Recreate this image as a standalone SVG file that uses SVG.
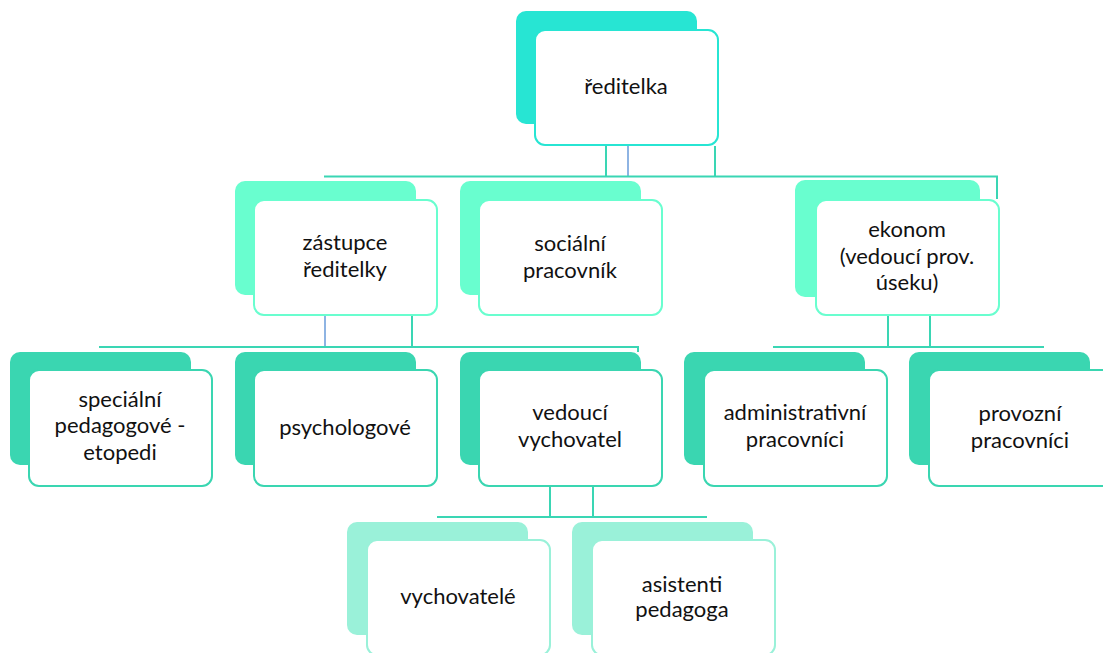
<svg xmlns="http://www.w3.org/2000/svg" width="1103" height="653" viewBox="0 0 1103 653">
<style>
  text { font-family: Lato, "Open Sans", "Liberation Sans", sans-serif; font-size: 22px; fill: #111; text-anchor: middle; }
  .front { fill: #ffffff; stroke-width: 2; }
  .l1b { fill: #27E5D3; } .l1f { stroke: #27E5D3; }
  .l2b { fill: #69FECF; } .l2f { stroke: #69FECF; }
  .l3b { fill: #3AD6B1; } .l3f { stroke: #3AD6B1; }
  .l4b { fill: #9AF1D9; } .l4f { stroke: #9AF1D9; }
  .conn { stroke: #3AD6B4; stroke-width: 2; fill: none; }
  .connb { stroke: #8EB4E3; stroke-width: 2; fill: none; }
</style>
<rect width="1103" height="653" fill="#ffffff"/>

<g id="connectors">
  <!-- from ředitelka -->
  <line class="conn" x1="606" y1="146" x2="606" y2="176.5"/>
  <line class="connb" x1="628" y1="146" x2="628" y2="176.5"/>
  <line class="conn" x1="715" y1="146" x2="715" y2="176.5"/>
  <line class="conn" x1="324" y1="176.5" x2="998" y2="176.5"/>
  <line class="conn" x1="997" y1="176.5" x2="997" y2="199"/>
  <!-- from zástupce -->
  <line class="connb" x1="325" y1="316" x2="325" y2="347"/>
  <line class="conn" x1="412" y1="316" x2="412" y2="347"/>
  <line class="conn" x1="99" y1="347" x2="639" y2="347"/>
  <line class="conn" x1="638" y1="347" x2="638" y2="352"/>
  <!-- from ekonom -->
  <line class="conn" x1="888" y1="316" x2="888" y2="347"/>
  <line class="conn" x1="930" y1="316" x2="930" y2="347"/>
  <line class="conn" x1="773" y1="347" x2="1044" y2="347"/>
  <!-- from vedoucí vychovatel -->
  <line class="conn" x1="550" y1="486" x2="550" y2="517"/>
  <line class="conn" x1="593" y1="486" x2="593" y2="517"/>
  <line class="conn" x1="437" y1="517" x2="707" y2="517"/>
</g>

<g id="reditelka">
  <rect class="l1b" x="516" y="11" width="181" height="113" rx="10"/>
  <rect class="front l1f" x="535" y="30" width="183" height="115" rx="10"/>
  <text x="626" y="94">ředitelka</text>
</g>

<g id="zastupce">
  <rect class="l2b" x="235" y="181" width="181" height="114" rx="10"/>
  <rect class="front l2f" x="254" y="200" width="183" height="115" rx="10"/>
  <text x="345" y="250">zástupce</text>
  <text x="345" y="277">ředitelky</text>
</g>

<g id="socialni">
  <rect class="l2b" x="460" y="181" width="181" height="114" rx="10"/>
  <rect class="front l2f" x="479" y="200" width="183" height="115" rx="10"/>
  <text x="570" y="251">sociální</text>
  <text x="570" y="278">pracovník</text>
</g>

<g id="ekonom">
  <rect class="l2b" x="795" y="180" width="185" height="117" rx="10"/>
  <rect class="front l2f" x="816" y="200" width="183" height="115" rx="10"/>
  <text x="907" y="237">ekonom</text>
  <text x="907" y="264">(vedoucí prov.</text>
  <text x="907" y="290">úseku)</text>
</g>

<g id="specialni">
  <rect class="l3b" x="10" y="352" width="181" height="113" rx="10"/>
  <rect class="front l3f" x="29" y="370" width="183" height="116" rx="10"/>
  <text x="120" y="407">speciální</text>
  <text x="120" y="433">pedagogové -</text>
  <text x="120" y="460">etopedi</text>
</g>

<g id="psychologove">
  <rect class="l3b" x="235" y="352" width="181" height="113" rx="10"/>
  <rect class="front l3f" x="254" y="370" width="183" height="116" rx="10"/>
  <text x="345" y="435">psychologové</text>
</g>

<g id="vedouci">
  <rect class="l3b" x="460" y="352" width="181" height="113" rx="10"/>
  <rect class="front l3f" x="479" y="370" width="183" height="116" rx="10"/>
  <text x="570" y="420">vedoucí</text>
  <text x="570" y="447">vychovatel</text>
</g>

<g id="administrativni">
  <rect class="l3b" x="684" y="352" width="181" height="113" rx="10"/>
  <rect class="front l3f" x="704" y="370" width="183" height="116" rx="10"/>
  <text x="795" y="420">administrativní</text>
  <text x="795" y="447">pracovníci</text>
</g>

<g id="provozni">
  <rect class="l3b" x="909" y="352" width="181" height="113" rx="10"/>
  <rect class="front l3f" x="929" y="370" width="183" height="116" rx="10"/>
  <text x="1020" y="421">provozní</text>
  <text x="1020" y="448">pracovníci</text>
</g>

<g id="vychovatele">
  <rect class="l4b" x="347" y="522" width="181" height="113" rx="10"/>
  <rect class="front l4f" x="367" y="540" width="183" height="115" rx="10"/>
  <text x="458" y="604">vychovatelé</text>
</g>

<g id="asistenti">
  <rect class="l4b" x="572" y="522" width="181" height="113" rx="10"/>
  <rect class="front l4f" x="592" y="540" width="183" height="115" rx="10"/>
  <text x="682" y="592">asistenti</text>
  <text x="682" y="617">pedagoga</text>
</g>
</svg>
